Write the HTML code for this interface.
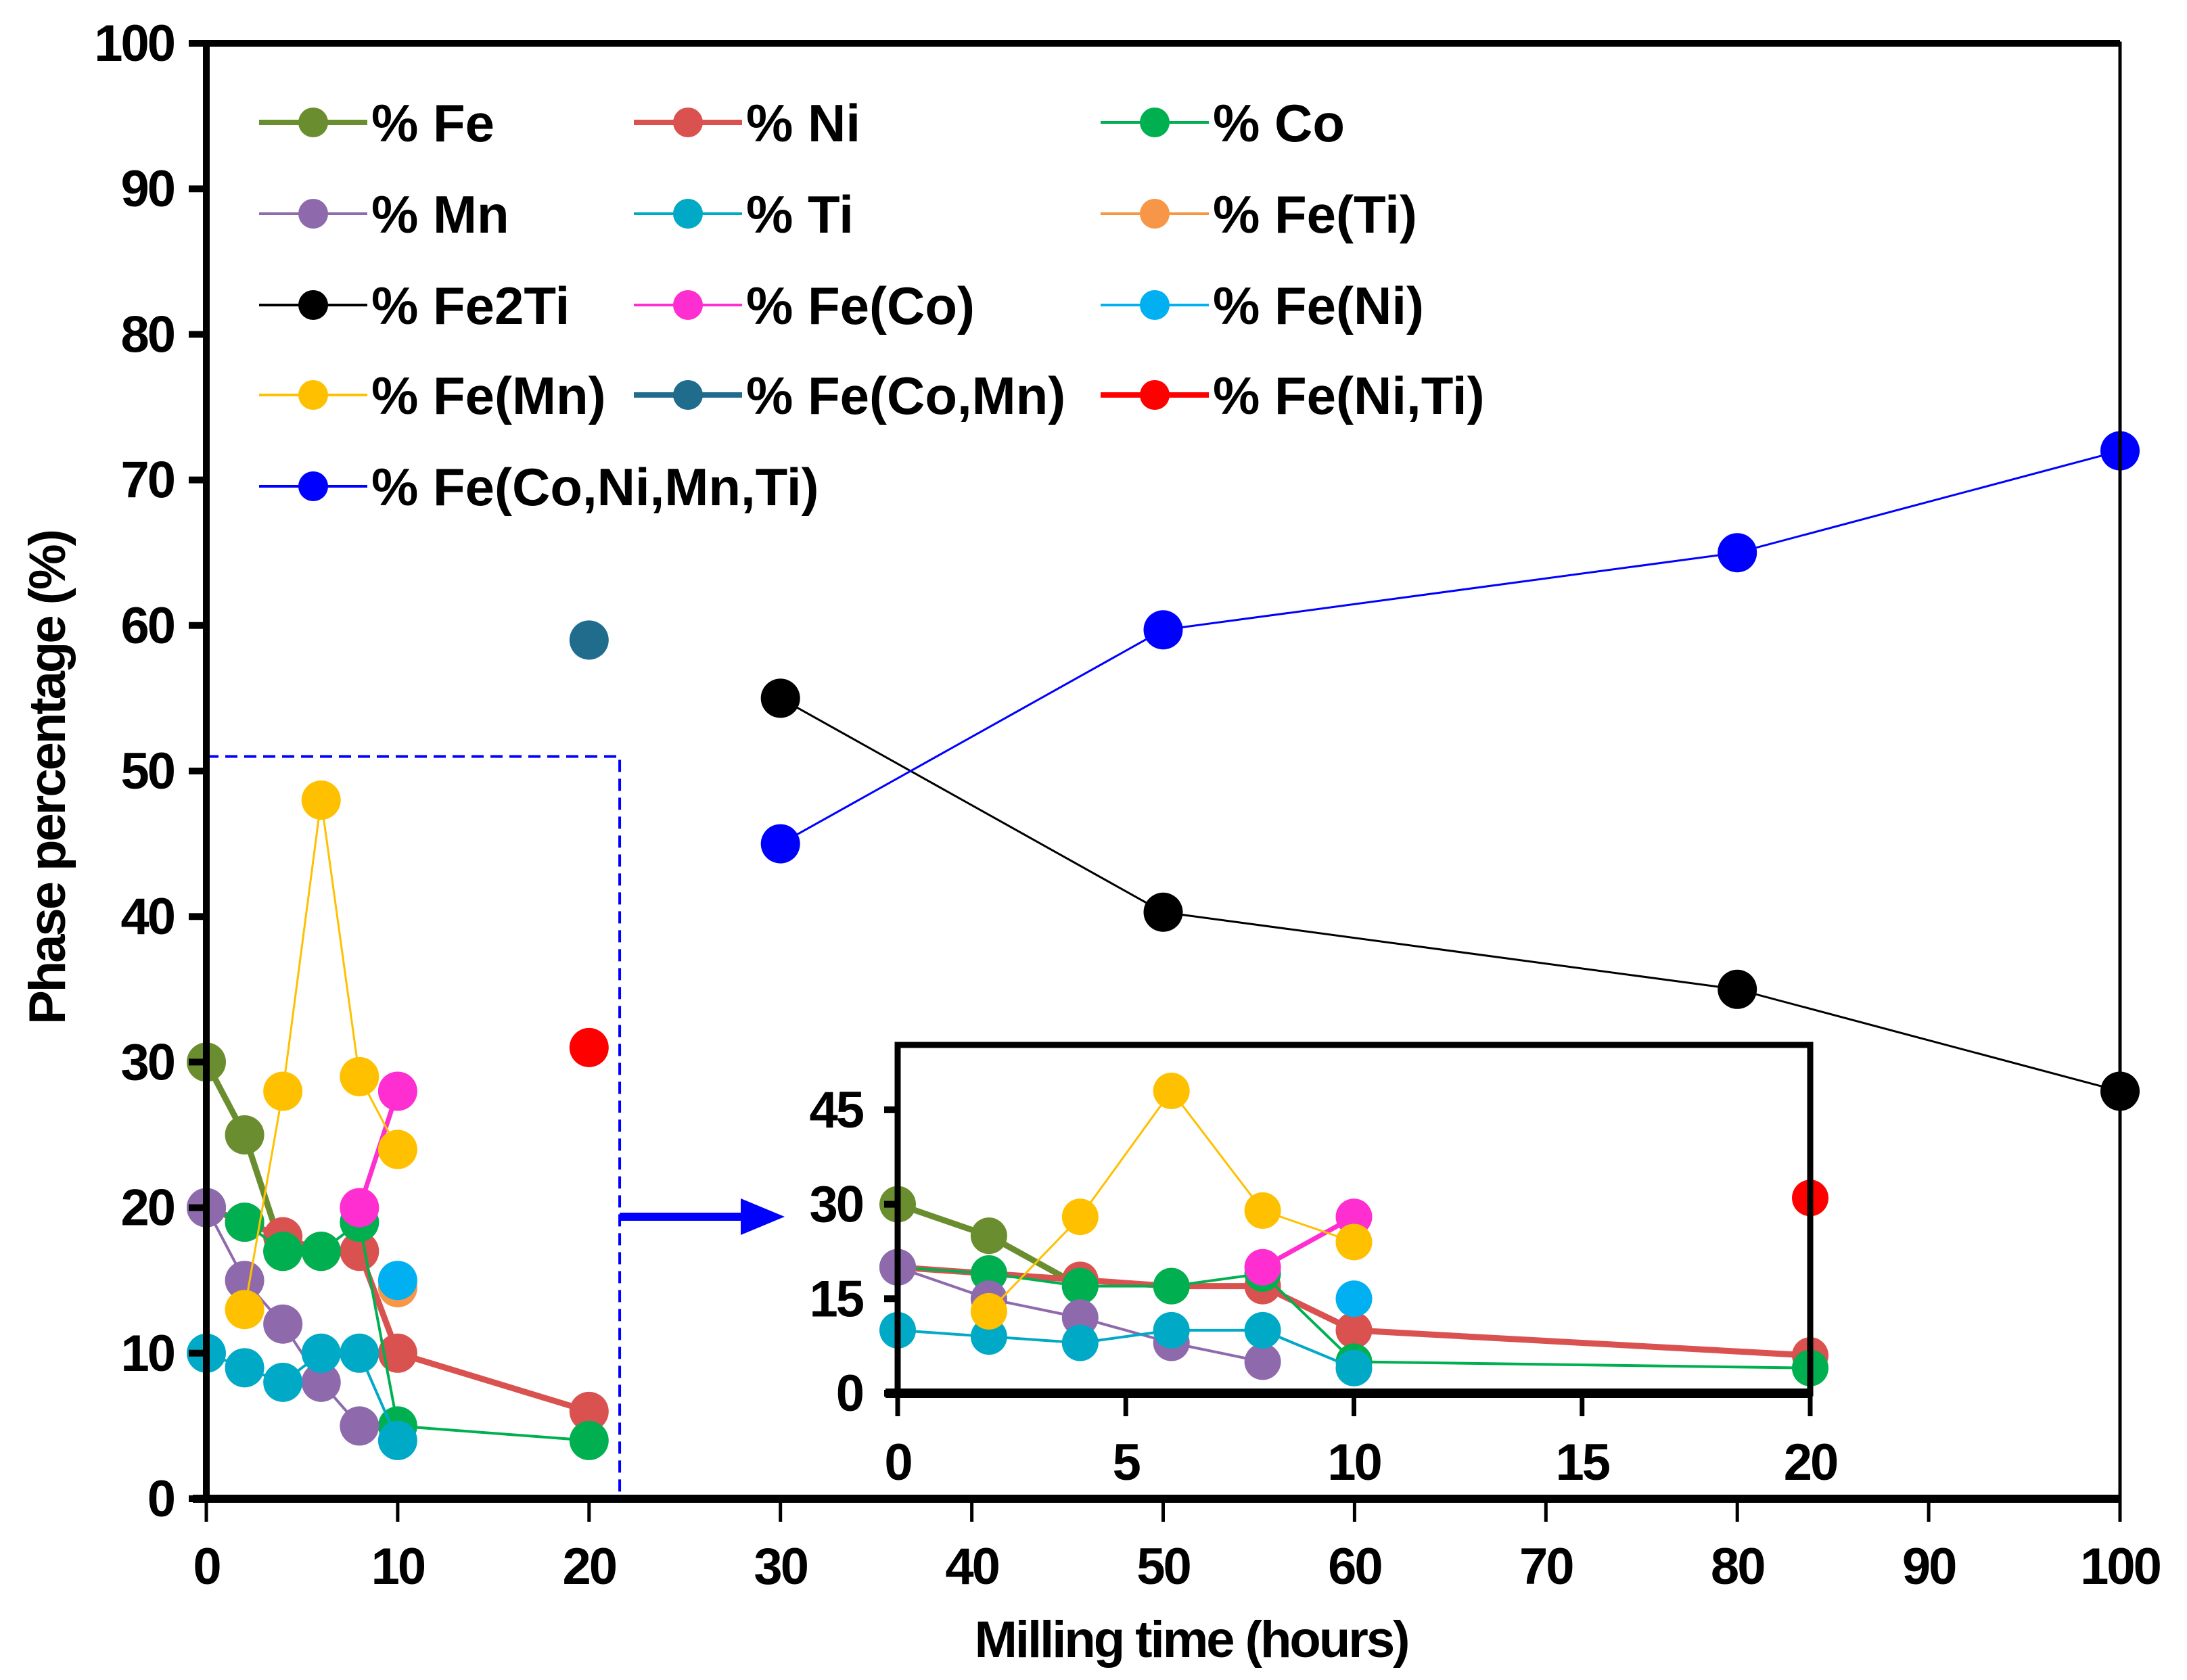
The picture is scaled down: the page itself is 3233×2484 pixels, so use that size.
<!DOCTYPE html>
<html><head><meta charset="utf-8"><style>
body{margin:0;background:#fff}
svg text{font-family:"Liberation Sans",sans-serif;font-weight:bold;fill:#000}
</style></head><body>
<svg id="c" width="3233" height="2479" viewBox="0 0 3233 2479" xmlns="http://www.w3.org/2000/svg"></svg>
<script>
const xTicks=[0,10,20,30,40,50,60,70,80,90,100];
const yTicks=[0,10,20,30,40,50,60,70,80,90,100];
const insetXTicks=[0,5,10,15,20];
const insetYTicks=[0,15,30,45];
const seriesNames=["% Fe","% Ni","% Co","% Mn","% Ti","% Fe(Ti)","% Fe2Ti","% Fe(Co)","% Fe(Ni)","% Fe(Mn)","% Fe(Co,Mn)","% Fe(Ni,Ti)","% Fe(Co,Ni,Mn,Ti)"];
const seriesColors=["#6a8e2f","#d9524f","#00b050","#8e6aad","#00a9c6","#f79646","#000000","#ff2ed0","#00b0f0","#ffc000","#1f6c8c","#ff0000","#0000ff"];
const feX=[0,2,4], feY=[30,25,17];
const niX=[0,2,4,6,8,10,20], niY=[20,19,18,17,17,10,6];
const coX=[0,2,4,6,8,10,20], coY=[20,19,17,17,19,5,4];
const mnX=[0,2,4,6,8], mnY=[20,15,12,8,5];
const tiX=[0,2,4,6,8,10], tiY=[10,9,8,10,10,4];
const feTiX=[10], feTiY=[14.5];
const fe2TiX=[30,50,80,100], fe2TiY=[55,40.3,35,28];
const feCoX=[8,10], feCoY=[20,28];
const feNiX=[10], feNiY=[15];
const feMnX=[2,4,6,8,10], feMnY=[13,28,48,29,24];
const feCoMnX=[20], feCoMnY=[59];
const feNiTiX=[20], feNiTiY=[31];
const allX=[0,30,50,80,100], allY=[45,59.7,65,72];
const allXs=[30,50,80,100];
const seriesX=[feX,niX,coX,mnX,tiX,feTiX,fe2TiX,feCoX,feNiX,feMnX,feCoMnX,feNiTiX,allXs];
const seriesY=[feY,niY,coY,mnY,tiY,feTiY,fe2TiY,feCoY,feNiY,feMnY,feCoMnY,feNiTiY,allY];
const lineW=[9,9,4,4,4,3,3,7,3,3,6,6,3];
const inInset=[1,1,1,1,1,0,0,1,1,1,0,1,0];

const S=document.getElementById('c');const NS='http://www.w3.org/2000/svg';
function mk(t,a,name,p){const e=document.createElementNS(NS,t);for(const k in a)e.setAttribute(k,a[k]);


(p||S).appendChild(e);return e;}
function txt(x,y,s,size,anchor,name,extra){const e=mk('text',Object.assign({x:x,y:y,'font-size':size,'text-anchor':anchor||'middle'},extra||{}),name);e.textContent=s;return e;}

// main axes
const L=305,R=3134,T=64,B=2216;
const xm=v=>L+(R-L)*v/100, ym=v=>B-(B-T)*v/100;
// inset axes
const iL=1327,iR=2676,iT=1545,iB=2060,iMax=55.3;
const xi=v=>iL+(iR-iL)*v/20, yi=v=>iB-(iB-iT)*v/iMax;

// dashed box + arrow
mk('path',{d:`M${L} ${ym(51)} H${xm(21.6)} V${B}`,fill:'none',stroke:'#0000ff','stroke-width':4,'stroke-dasharray':'18 10'},'zoom-region-box');
mk('line',{x1:xm(21.6),y1:1799,x2:1110,y2:1799,stroke:'#0000ff','stroke-width':12},'zoom-arrow-line');
mk('polygon',{points:`1095,1772 1160,1799 1095,1826`,fill:'#0000ff'},'zoom-arrow-head');

function drawSeries(xf,yf,filter,r,prefix){
 for(let i=0;i<seriesX.length;i++){
  if(filter&&!inInset[i])continue;
  const X=seriesX[i],Y=seriesY[i];
  if(X.length>1){const d=X.map((x,j)=>(j?'L':'M')+xf(x)+' '+yf(Y[j])).join(' ');
   mk('path',{d:d,fill:'none',stroke:seriesColors[i],'stroke-width':lineW[i]},prefix+'line-'+i);}
  X.forEach((x,j)=>mk('circle',{cx:xf(x),cy:yf(Y[j]),r:r,fill:seriesColors[i]},prefix+'point-'+i+'-'+j));
 }
}
drawSeries(xm,ym,false,29,'main-');

// main frame
mk('rect',{x:L,y:T,width:R-L,height:B-T,fill:'none',stroke:'#000','stroke-width':5},'plot-frame');
mk('line',{x1:L,y1:T,x2:L,y2:B,stroke:'#000','stroke-width':10},'y-axis');
mk('line',{x1:L,y1:T,x2:R,y2:T,stroke:'#000','stroke-width':10},'top-axis');
mk('line',{x1:L-20,y1:B,x2:R,y2:B,stroke:'#000','stroke-width':12},'x-axis');
yTicks.forEach(v=>{mk('line',{x1:L-26,y1:ym(v),x2:L,y2:ym(v),stroke:'#000','stroke-width':10},'y-tick');
 txt(L-48,ym(v)+26,String(v),76,'end','y-tick-label',{'letter-spacing':'-3'});});
xTicks.forEach(v=>{mk('line',{x1:xm(v),y1:B,x2:xm(v),y2:B+34,stroke:'#000','stroke-width':5},'x-tick');
 txt(xm(v),2342,String(v),76,'middle','x-tick-label',{'letter-spacing':'-3'});});
txt(1761,2450,'Milling time  (hours)',76,'middle','x-axis-title',{'letter-spacing':'-3'});
txt(0,0,'Phase percentage  (%)',76,'middle','y-axis-title',{transform:'translate(96,1150) rotate(-90)','letter-spacing':'-3'});

// inset
mk('rect',{x:iL,y:iT,width:iR-iL,height:iB-iT,fill:'#fff',stroke:'none'},'inset-bg');
drawSeries(xi,yi,true,27,'inset-');
mk('rect',{x:iL,y:iT,width:iR-iL,height:iB-iT,fill:'none',stroke:'#000','stroke-width':9},'inset-frame');
mk('line',{x1:iL-18,y1:iB,x2:iR,y2:iB,stroke:'#000','stroke-width':14},'inset-x-axis');
insetYTicks.forEach(v=>{mk('line',{x1:iL-20,y1:yi(v),x2:iL,y2:yi(v),stroke:'#000','stroke-width':10},'inset-y-tick');
 txt(iL-52,yi(v)+26,String(v),76,'end','inset-y-tick-label',{'letter-spacing':'-3'});});
insetXTicks.forEach(v=>{mk('line',{x1:xi(v),y1:iB,x2:xi(v),y2:iB+34,stroke:'#000','stroke-width':7},'inset-x-tick');
 txt(xi(v),2188,String(v),76,'middle','inset-x-tick-label',{'letter-spacing':'-3'});});

// legend
const colX=[383,937,1627], rowY=[181,316,451,584,719];
seriesNames.forEach((n,i)=>{const cx=colX[i%3],cy=rowY[Math.floor(i/3)];
 mk('line',{x1:cx,y1:cy,x2:cx+160,y2:cy,stroke:seriesColors[i],'stroke-width':i==0||i==1||i==10||i==11?8:4},'legend-line-'+i);
 mk('circle',{cx:cx+80,cy:cy,r:22,fill:seriesColors[i]},'legend-marker-'+i);
 txt(cx+166,cy+28,n.replace('% ','%  '),78,'start','legend-label-'+i,{'xml:space':'preserve'});});
</script>
</body></html>
